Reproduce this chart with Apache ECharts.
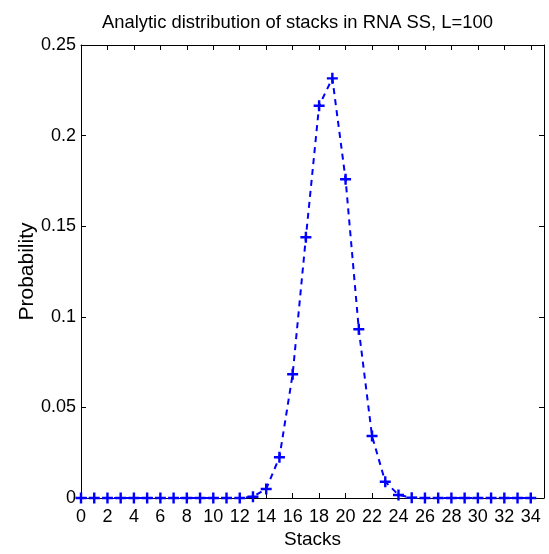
<!DOCTYPE html>
<html><head><meta charset="utf-8">
<script src="https://cdn.jsdelivr.net/npm/echarts@6/dist/echarts.min.js"></script>
<style>html,body{margin:0;padding:0;background:#fff}#c{width:549px;height:554px}</style>
</head><body><div id="c"></div>
<script>
const stacks = [0,1,2,3,4,5,6,7,8,9,10,11,12,13,14,15,16,17,18,19,20,21,22,23,24,25,26,27,28,29,30,31,32,33,34];
const probability = [0,0,0,0,0,0,0,0,0,0,0,0,0,0.0007,0.0050,0.0225,0.0683,0.1439,0.2165,0.2316,0.1759,0.0931,0.0342,0.0090,0.0017,0.0002,0,0,0,0,0,0,0,0,0];
const yTicks = [0,0.05,0.1,0.15,0.2,0.25];
const titleText = 'Analytic distribution of stacks in RNA SS, L=100';

const font = 'Liberation Sans, Arial, Helvetica, sans-serif';
const chart = echarts.init(document.getElementById('c'), null, {renderer:'canvas'});
const plus = 'path://M0,3.9 L10,3.9 L10,6.1 L0,6.1 Z M3.9,0 L6.1,0 L6.1,10 L3.9,10 Z';
const axisBase = {
  axisLine:{show:true,onZero:false,lineStyle:{color:'#000',width:1}},
  axisTick:{show:true,inside:true,length:5,lineStyle:{color:'#000'}},
  splitLine:{show:false}
};
chart.setOption({
  animation:false,
  title:{text:titleText,left:97,top:9,textStyle:{fontFamily:font,fontSize:18.4,fontWeight:'normal',color:'#000'}},
  grid:{left:81,right:5,top:45,bottom:56,containLabel:false},
  xAxis:[
    Object.assign({type:'value',min:0,max:35,interval:2,position:'bottom',
      name:'Stacks',nameLocation:'middle',nameGap:32,nameMoveOverlap:false,
      nameTextStyle:{fontFamily:font,fontSize:19,color:'#000'},
      axisLabel:{fontFamily:font,fontSize:18,color:'#000',margin:10,
        formatter:v=> (v%2===0 && v<=34) ? String(v) : ''}},axisBase),
    Object.assign({type:'value',min:0,max:35,interval:2,position:'top',axisLabel:{show:false}},axisBase)
  ],
  yAxis:[
    Object.assign({type:'value',min:0,max:0.25,interval:0.05,position:'left',
      name:'Probability',nameLocation:'middle',nameGap:43,nameMoveOverlap:false,
      nameTextStyle:{fontFamily:font,fontSize:21,color:'#000'},
      axisLabel:{fontFamily:font,fontSize:18,color:'#000',margin:5,
        formatter:v=>{const t=yTicks.find(k=>Math.abs(k-v)<1e-9);return t===undefined?'':String(t);}}},axisBase),
    Object.assign({type:'value',min:0,max:0.25,interval:0.05,position:'right',axisLabel:{show:false}},axisBase)
  ],
  series:[{
    type:'line',
    data:stacks.map((s,i)=>[s,probability[i]]),
    symbol:plus,symbolSize:11,showSymbol:true,
    itemStyle:{color:'#0000ff',borderWidth:0},
    lineStyle:{color:'#0000ff',width:2,type:[6,5]},
    clip:false,z:5
  }]
});
</script></body></html>
